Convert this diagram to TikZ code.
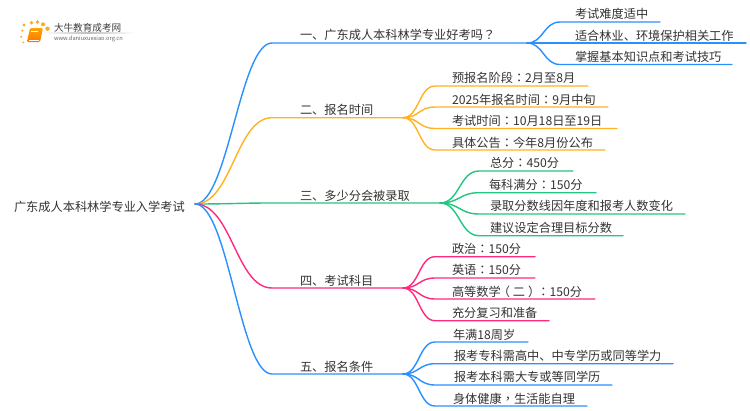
\documentclass[tikz,border=0pt]{standalone}
\usepackage{fontspec}
\setmainfont{Noto Sans CJK SC}
\newfontfamily\tcfont{Noto Sans CJK TC}
\usetikzlibrary{calc}
\definecolor{cblue}{HTML}{2A90FF}
\definecolor{corange}{HTML}{FFB224}
\definecolor{cgreen}{HTML}{22C77F}
\definecolor{cpink}{HTML}{FF2A7F}
\definecolor{ctext}{HTML}{333333}
\newcommand{\cc}{{\tcfont ：}}
\newcommand{\qq}{{\tcfont ？}}
\newcommand{\cm}{{\tcfont ，}}
\tikzset{
  lab/.style={anchor=west,inner sep=0pt,outer sep=0pt,yshift=-0.8pt,text=ctext,font=\fontsize{12.2pt}{14pt}\selectfont},
  link/.style={line width=1.4pt,line cap=round},
  logodot/.style={fill=#1,draw=none,opacity=.85}
}
% \leaf{name}{hub}{start x}{end x}{y}{text x}{text y}{text}{colour}
\newcommand{\leaf}[9]{%
  \coordinate (#1s) at (#3,#5);
  \coordinate (#1e) at (#4,#5);
  \node[lab] (#1) at (#6,#7) {#8};
  \path let \p1=(#2),\p2=(#1s),\n1={\x1+0.5*(\x2-\x1)} in
    coordinate (#1a) at (\n1,\y1) coordinate (#1b) at (\n1,\y2);
  \draw[link,#9] (#2) .. controls (#1a) and (#1b) .. (#1s) -- (#1e);
}
\newcommand{\mainb}[8]{%
  \coordinate (#1s) at (272,#2);
  \coordinate (#1h) at (#3,#2);
  \node[lab] (#1) at (300,#4) {#5};
  \draw[link,#6] (r0) .. controls (#7,204) and (#8,#2) .. (#1s) -- (#1h);
}
\begin{document}
\begin{tikzpicture}[x=1pt,y=-1pt]
\useasboundingbox (0,0) rectangle (750,410);
\fill[white] (0,0) rectangle (750,410);
% logo
\foreach \x/\y/\r in {24/25/1.6,31.5/22.7/1.8,37.5/22/1.9,43/24.3/2,47.5/28.7/2.2,22.3/30.7/1.2,21.3/36.7/1.1,23.3/42.3/1}
  \fill[logodot=orange!80!yellow] (\x,\y) circle (\r);
\shade[top color=orange!70!yellow,bottom color=orange!90!red,rounded corners=1.2pt]
  (30,28) -- (43,28) -- (40,42) -- (27,42) -- cycle;
\draw[white,line width=.6pt] (31,31) -- (38,31);
\draw[white,line width=.6pt] (28.6,39.8) -- (39,39.8);
\node[lab,font=\fontsize{9.6pt}{11pt}\selectfont,text=black!75] (logoa) at (54,27) {大牛教育成考网};
\node[lab,font=\fontsize{5.7pt}{7pt}\selectfont,text=black!60] (logob) at (54,38.5) {www.daniuxuexiao.org.cn};
\shade[left color=white,right color=white,middle color=black!25] (42,32.9) rectangle (134,33.5);
% root
\node[lab] (root) at (14,206) {广东成人本科林学专业入学考试};
\coordinate (r0) at (195,204);
% level 1
\mainb{a}{43}{527}{34}{一、广东成人本科林学专业好考吗\qq}{cblue}{228}{240}
\mainb{b}{117.7}{403}{109}{二、报名时间}{corange}{232}{236}
\mainb{c}{203}{440}{195}{三、多少分会被录取}{cgreen}{230}{240}
\mainb{d}{288}{403}{280.5}{四、考试科目}{cpink}{232}{236}
\mainb{e}{374}{403}{366}{五、报名条件}{cblue}{228}{240}
% level 2
\leaf{a1}{ah}{560}{660}{22}{575}{13}{考试难度适中}{cblue}
\leaf{a2}{ah}{560}{746}{43}{575}{35}{适合林业、环境保护相关工作}{cblue}
\leaf{a3}{ah}{560}{732}{64.5}{575}{56}{掌握基本知识点和考试技巧}{cblue}
\leaf{b1}{bh}{435}{588}{86}{452}{77}{预报名阶段\cc{}2月至8月}{corange}
\leaf{b2}{bh}{435}{608}{107}{452}{98.7}{2025年报名时间\cc{}9月中旬}{corange}
\leaf{b3}{bh}{435}{617}{128.5}{452}{120}{考试时间\cc{}10月18日至19日}{corange}
\leaf{b4}{bh}{435}{605}{150}{452}{141.7}{具体公告\cc{}今年8月份公布}{corange}
\leaf{c1}{ch}{479}{573}{171}{490}{162}{总分\cc{}450分}{cgreen}
\leaf{c2}{ch}{479}{596}{192.7}{489}{184}{每科满分\cc{}150分}{cgreen}
\leaf{c3}{ch}{479}{685}{214}{490}{205}{录取分数线因年度和报考人数变化}{cgreen}
\leaf{c4}{ch}{479}{623}{235.7}{490}{227}{建议设定合理目标分数}{cgreen}
\leaf{d1}{dh}{435}{535}{256.7}{452}{248}{政治\cc{}150分}{cpink}
\leaf{d2}{dh}{435}{535}{278}{452}{269.5}{英语\cc{}150分}{cpink}
\leaf{d3}{dh}{435}{595}{299}{452}{291}{高等数学\kern-3pt（\kern3pt 二\kern3pt ）\kern-3pt\cc{}150分}{cpink}
\leaf{d4}{dh}{435}{549}{320.7}{452}{312}{充分复习和准备}{cpink}
\leaf{e1}{eh}{435}{528}{342}{453}{334}{年满18周岁}{cblue}
\leaf{e2}{eh}{435}{673}{363.7}{454}{355}{报考专科需高中、中专学历或同等学力}{cblue}
\leaf{e3}{eh}{435}{612}{385}{454}{376.5}{报考本科需大专或等同学历}{cblue}
\leaf{e4}{eh}{435}{587}{406}{453}{398}{身体健康\cm{}生活能自理}{cblue}
\end{tikzpicture}
\end{document}
